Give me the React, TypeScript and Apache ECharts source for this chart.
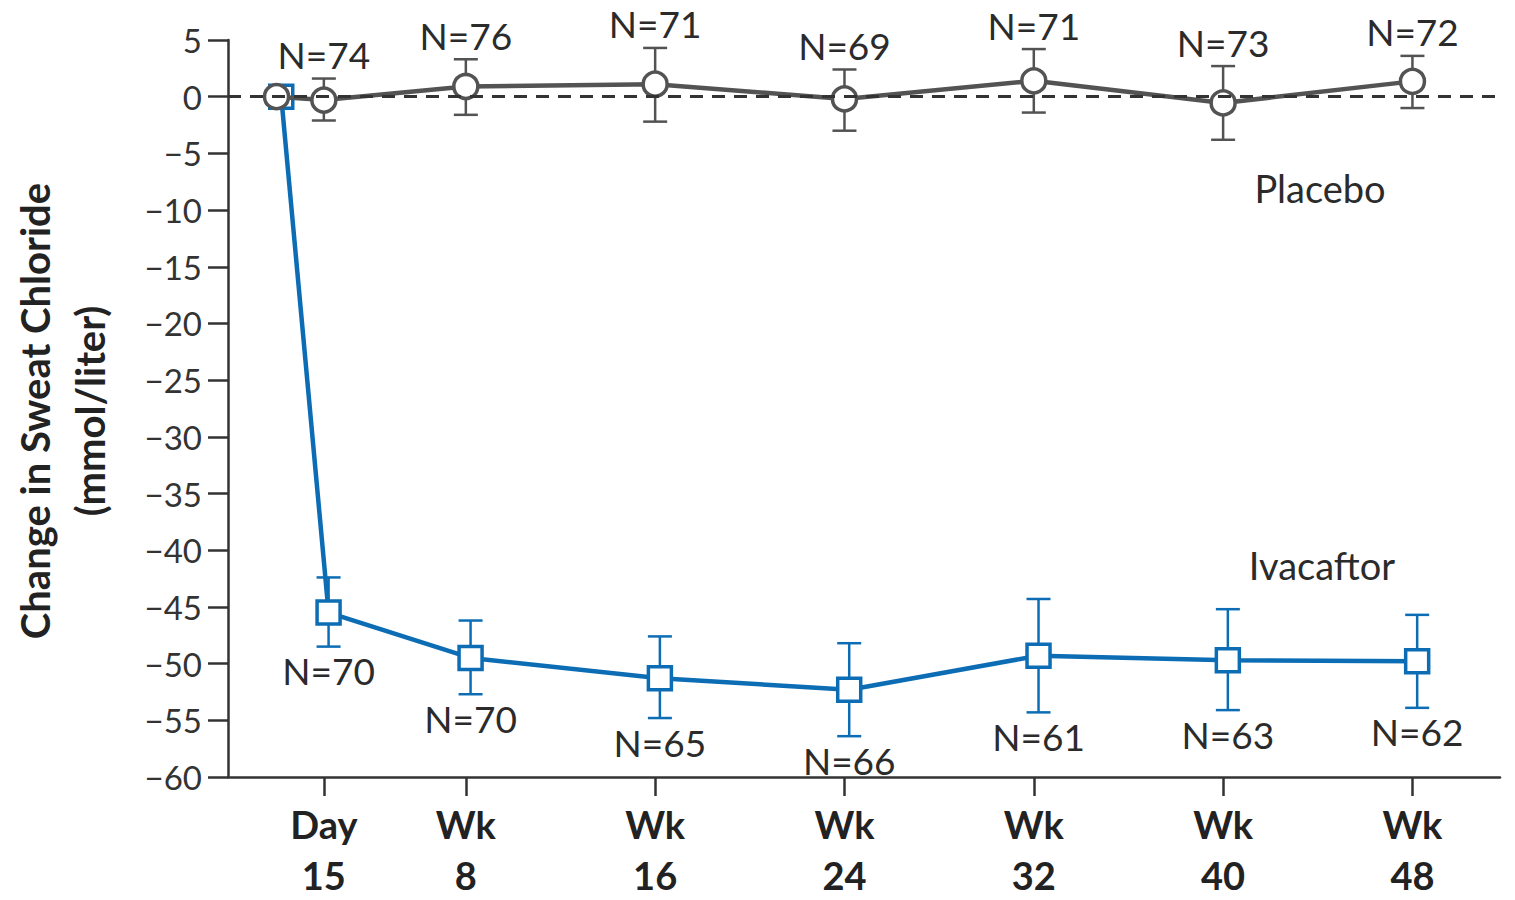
import React, { useEffect, useRef } from "react";
import * as echarts from "echarts";

// Study visits, in weeks from baseline (Day 15 = week 2)
const weeks = [0, 2, 8, 16, 24, 32, 40, 48];
const tickWeeks = [2, 8, 16, 24, 32, 40, 48];
const tickLabels = ["Day\n15", "Wk\n8", "Wk\n16", "Wk\n24", "Wk\n32", "Wk\n40", "Wk\n48"];

// Placebo: mean change and error-bar limits (mmol/liter)
const placeboMean = [0, -0.3, 0.9, 1.1, -0.2, 1.4, -0.55, 1.35];
const placeboHigh = [null, 1.6, 3.3, 4.3, 2.4, 4.2, 2.7, 3.6];
const placeboLow = [null, -2.1, -1.6, -2.2, -3.0, -1.4, -3.8, -1.0];
const placeboN = ["", "N=74", "N=76", "N=71", "N=69", "N=71", "N=73", "N=72"];

// Ivacaftor: mean change and error-bar limits (mmol/liter)
const ivaMean = [0, -45.5, -49.5, -51.3, -52.3, -49.3, -49.7, -49.8];
const ivaHigh = [null, -42.4, -46.2, -47.6, -48.2, -44.3, -45.2, -45.7];
const ivaLow = [null, -48.5, -52.7, -54.8, -56.4, -54.3, -54.1, -53.9];
const ivaN = ["", "N=70", "N=70", "N=65", "N=66", "N=61", "N=63", "N=62"];

// Ivacaftor points are nudged right so the two groups don't overlap
const IVA_SHIFT = 0.2;

const FONT = "Lato, 'Open Sans', 'DejaVu Sans', sans-serif";
const GRAY = "#535353";
const BLUE = "#0c6db5";
const AXIS = "#333333";
const TEXT = "#2b2b2b";

function errorData(xs: number[], lo: (number | null)[], hi: (number | null)[]) {
  const out: any[] = [];
  xs.forEach((x, i) => {
    if (lo[i] != null && hi[i] != null) out.push({ value: [x, lo[i], hi[i]] });
  });
  return out;
}

function makeErrorRender(color: string, labels: string[], above: boolean) {
  return (params: any, api: any) => {
    const x = api.value(0);
    const lo = api.value(1);
    const hi = api.value(2);
    const top = api.coord([x, hi]);
    const bot = api.coord([x, lo]);
    const half = 12;
    const style = { stroke: color, lineWidth: 2.5 };
    const label = labels[params.dataIndexInside + 1];
    return {
      type: "group",
      children: [
        { type: "line", shape: { x1: top[0], y1: top[1], x2: bot[0], y2: bot[1] }, style },
        { type: "line", shape: { x1: top[0] - half, y1: top[1], x2: top[0] + half, y2: top[1] }, style },
        { type: "line", shape: { x1: bot[0] - half, y1: bot[1], x2: bot[0] + half, y2: bot[1] }, style },
        {
          type: "text",
          x: top[0],
          y: above ? top[1] - 24 : bot[1] + 24,
          style: {
            text: label,
            fill: TEXT,
            fontSize: 37,
            fontFamily: FONT,
            align: "center",
            verticalAlign: "middle",
          },
        },
      ],
    };
  };
}

export default function App() {
  const ref = useRef<HTMLDivElement>(null);

  useEffect(() => {
    if (!ref.current) return;
    const chart = echarts.init(ref.current, null, { renderer: "svg" });

    const ivaX = weeks.map((w) => w + IVA_SHIFT);

    chart.setOption({
      animation: false,
      backgroundColor: "#ffffff",
      grid: { left: 228, right: 15, top: 40, bottom: 118, containLabel: false },
      xAxis: {
        type: "value",
        min: -2.05,
        max: 51.7,
        splitLine: { show: false },
        axisLine: { show: true, onZero: false, lineStyle: { color: AXIS, width: 2.5 } },
        axisTick: {
          show: true,
          customValues: tickWeeks,
          length: 19,
          lineStyle: { color: AXIS, width: 2.5 },
        },
        axisLabel: {
          customValues: tickWeeks,
          formatter: (v: number) => tickLabels[tickWeeks.indexOf(v)] ?? "",
          fontFamily: FONT,
          fontWeight: "bold",
          fontSize: 38,
          lineHeight: 51,
          color: "#222222",
          margin: 21,
        },
      },
      yAxis: {
        type: "value",
        min: -60,
        max: 5,
        interval: 5,
        splitLine: { show: false },
        axisLine: { show: true, onZero: false, lineStyle: { color: AXIS, width: 2.5 } },
        axisTick: { show: true, length: 20, lineStyle: { color: AXIS, width: 2.5 } },
        axisLabel: {
          formatter: (v: number) => String(v).replace("-", "\u2212"),
          fontFamily: FONT,
          fontSize: 33,
          color: "#333333",
          margin: 26,
        },
      },
      graphic: [
        {
          type: "text",
          x: 62,
          y: 411,
          rotation: Math.PI / 2,
          style: {
            text: "Change in Sweat Chloride\n(mmol/liter)",
            fontFamily: FONT,
            fontWeight: "bold",
            fontSize: 40,
            lineHeight: 55,
            fill: "#222222",
            align: "center",
            verticalAlign: "middle",
          },
        },
        {
          type: "text",
          x: 1320,
          y: 188,
          style: {
            text: "Placebo",
            fontFamily: FONT,
            fontSize: 38,
            fill: TEXT,
            align: "center",
            verticalAlign: "middle",
          },
        },
        {
          type: "text",
          x: 1322,
          y: 565,
          style: {
            text: "Ivacaftor",
            fontFamily: FONT,
            fontSize: 38,
            fill: TEXT,
            align: "center",
            verticalAlign: "middle",
          },
        },
      ],
      series: [
        {
          name: "Placebo error",
          type: "custom",
          z: 1,
          renderItem: makeErrorRender(GRAY, placeboN, true),
          encode: { x: 0, y: [1, 2] },
          data: errorData(weeks, placeboLow, placeboHigh),
          clip: false,
        },
        {
          name: "Ivacaftor error",
          type: "custom",
          z: 1,
          renderItem: makeErrorRender(BLUE, ivaN, false),
          encode: { x: 0, y: [1, 2] },
          data: errorData(ivaX, ivaLow, ivaHigh),
          clip: false,
        },
        {
          name: "Ivacaftor",
          type: "line",
          z: 2,
          data: ivaX.map((x, i) => [x, ivaMean[i]]),
          symbol: "rect",
          symbolSize: 23,
          showAllSymbol: true,
          lineStyle: { color: BLUE, width: 4.5 },
          itemStyle: { color: "#ffffff", borderColor: BLUE, borderWidth: 3.5 },
          markLine: {
            silent: true,
            symbol: "none",
            label: { show: false },
            lineStyle: { type: [13, 9], color: AXIS, width: 3 },
            data: [{ yAxis: 0 }],
          },
        },
        {
          name: "Placebo",
          type: "line",
          z: 3,
          data: weeks.map((x, i) => [x, placeboMean[i]]),
          symbol: "circle",
          symbolSize: 24,
          showAllSymbol: true,
          lineStyle: { color: GRAY, width: 4.5 },
          itemStyle: { color: "#ffffff", borderColor: GRAY, borderWidth: 3.5 },
        },
      ],
    });

    return () => chart.dispose();
  }, []);

  return (
    <div
      ref={ref}
      style={{ position: "absolute", left: 0, top: 0, width: 1515, height: 900 }}
    />
  );
}
